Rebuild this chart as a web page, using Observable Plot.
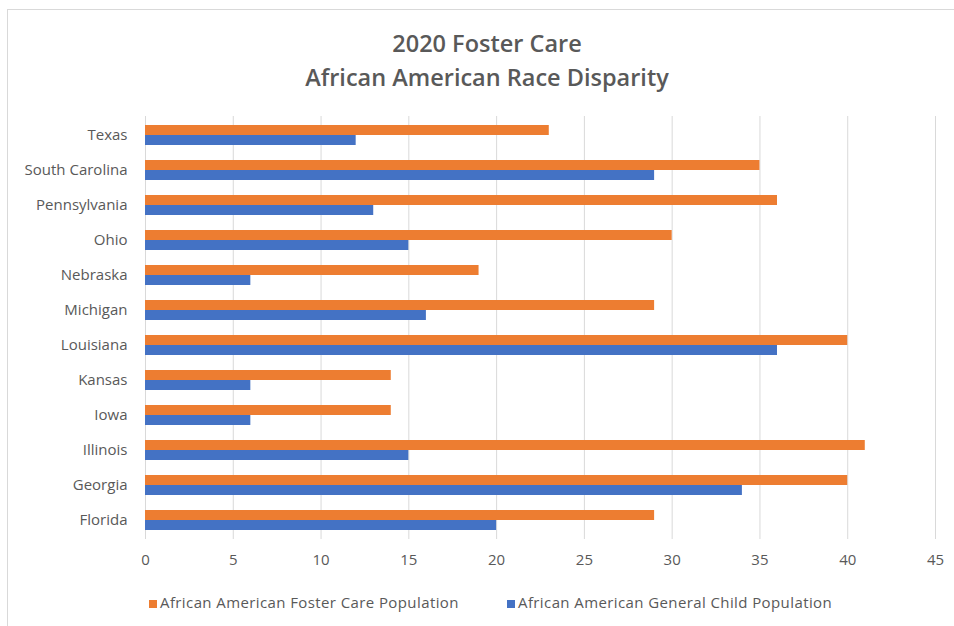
<!DOCTYPE html>
<html><head><meta charset="utf-8">
<script src="https://cdn.jsdelivr.net/npm/d3@7"></script>
<script src="https://cdn.jsdelivr.net/npm/@observablehq/plot@0.6"></script>
<style>
body{margin:0;background:#fff;font-family:"Open Sans",sans-serif;}
#wrap{position:relative;width:954px;height:626px;overflow:hidden;background:#fff;}
#frame{position:absolute;left:7px;top:9px;width:960px;height:640px;border-top:1px solid #d9d9d9;border-left:1px solid #d9d9d9;}
#title{position:absolute;left:0;top:26px;width:974px;text-align:center;color:#595959;font-weight:600;font-size:23.5px;line-height:34px;}
#chart{position:absolute;left:0;top:0;}
#legend{position:absolute;left:0;top:590px;width:954px;height:24px;color:#595959;font-size:15px;letter-spacing:0.4px;}
.item{position:absolute;top:0;white-space:nowrap;line-height:24px;}
.sw{display:inline-block;width:8px;height:8px;margin-right:3px;vertical-align:0px;}
</style></head><body>
<div id="wrap">
 <div id="frame"></div>
 <div id="title"></div>
 <div id="chart"></div>
 <div id="legend"></div>
</div>
<script>
const titleLines = ["2020 Foster Care", "African American Race Disparity"];
const states = ["Texas","South Carolina","Pennsylvania","Ohio","Nebraska","Michigan","Louisiana","Kansas","Iowa","Illinois","Georgia","Florida"];
const fosterCare = [23,35,36,30,19,29,40,14,14,41,40,29];
const generalChild = [12,29,13,15,6,16,36,6,6,15,34,20];
const seriesNames = ["African American Foster Care Population","African American General Child Population"];
const seriesColors = ["#ED7D31","#4472C4"];
const xTicks = [0,5,10,15,20,25,30,35,40,45];

document.getElementById("title").innerHTML = titleLines.join("<br>");

const fosterData = states.map((s, i) => ({state: s, value: fosterCare[i]}));
const generalData = states.map((s, i) => ({state: s, value: generalChild[i]}));

const chart = Plot.plot({
  width: 954,
  height: 579,
  marginTop: 116,
  marginBottom: 40,
  marginLeft: 145,
  marginRight: 19,
  style: {color: "#595959", fontSize: "15px", fontFamily: "'Open Sans', sans-serif", background: "transparent"},
  x: {domain: [0, 45], ticks: xTicks, tickSize: 0, tickPadding: 15, label: null},
  y: {domain: states, paddingInner: 0.43, paddingOuter: 0.25, tickSize: 0, tickPadding: 18, label: null},
  marks: [
    Plot.ruleX(xTicks, {stroke: "#d9d9d9", strokeWidth: 1}),
    Plot.barX(fosterData, {x: "value", y: "state", fill: seriesColors[0], insetBottom: 10}),
    Plot.barX(generalData, {x: "value", y: "state", fill: seriesColors[1], insetTop: 10})
  ]
});
document.getElementById("chart").appendChild(chart);

const legend = document.getElementById("legend");
const legendX = [149, 507];
seriesNames.forEach((name, i) => {
  const item = document.createElement("div");
  item.className = "item";
  item.style.left = legendX[i] + "px";
  item.innerHTML = `<span class="sw" style="background:${seriesColors[i]}"></span>${name}`;
  legend.appendChild(item);
});
</script>
</body></html>
